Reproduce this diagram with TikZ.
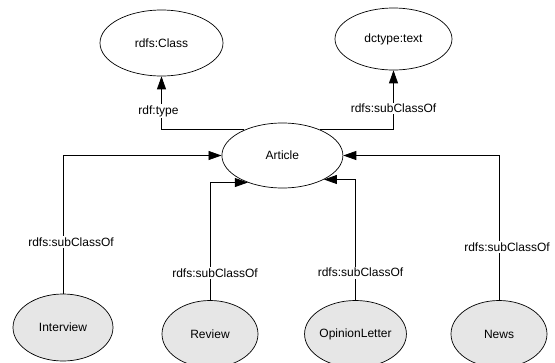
\documentclass[tikz,border=0pt]{standalone}
\usepackage{fontspec}
\setmainfont{Liberation Sans}
\usepackage{tikz}
\usetikzlibrary{positioning,
shapes.geometric,
arrows.meta}
\definecolor{subgray}{RGB}{230,230,230}
\tikzstyle{Link} = [
line width=0.8pt,
-{Triangle[length=13pt,width=9pt]}
]
\tikzstyle{Class} = [
ellipse, draw, line width=0.7pt, inner sep=0pt,
font=\fontsize{12}{14}\selectfont
]
\tikzstyle{Sub} = [
Class, fill=subgray
]
\tikzstyle{Prop} = [
fill=white, inner sep=1.5pt,
font=\fontsize{12}{14}\selectfont
]

\begin{document}
\begin{tikzpicture}[x=1pt, y=-1pt]
            \useasboundingbox (0,0) rectangle (555,362);
            \node [Class, minimum width=123pt, minimum height=66pt] (1) at (161.5,43) {rdfs:Class};
            \node [Class, minimum width=117pt, minimum height=62pt] (2) at (393.5,39) {dctype:text};
            \node [Class, minimum width=121pt, minimum height=65pt] (3) at (282.4,155.5) {Article};
            \node [Sub, minimum width=100pt, minimum height=67pt] (4) at (63,327.5) {Interview};
            \node [Sub, minimum width=96pt, minimum height=67pt] (5) at (210,334) {Review};
            \node [Sub, minimum width=99pt, minimum height=67pt] (6) at (355.5,334) {OpinionLetter};
            \node [Sub, minimum width=96pt, minimum height=67pt] (7) at (499,334) {News};

            \draw[Link] (3.146) -| node[Prop, pos=0.676, xshift=-3pt] {rdf:type} (1.south);
            \draw[Link] (3.34) -| node[Prop, pos=0.68] {rdfs:subClassOf} (2.south);
            \draw[Link] (4.north) |- node[Prop, pos=0.187, xshift=8pt] {rdfs:subClassOf} (3.west);
            \draw[Link] (5.north) |- node[Prop, pos=0.116, xshift=5pt] {rdfs:subClassOf} (3.218);
            \draw[Link] (6.north) |- node[Prop, pos=0.114, xshift=5pt] {rdfs:subClassOf} (3.330);
            \draw[Link] (7.north) |- node[Prop, pos=0.183, xshift=8pt] {rdfs:subClassOf} (3.east);
        \end{tikzpicture}
\end{document}
